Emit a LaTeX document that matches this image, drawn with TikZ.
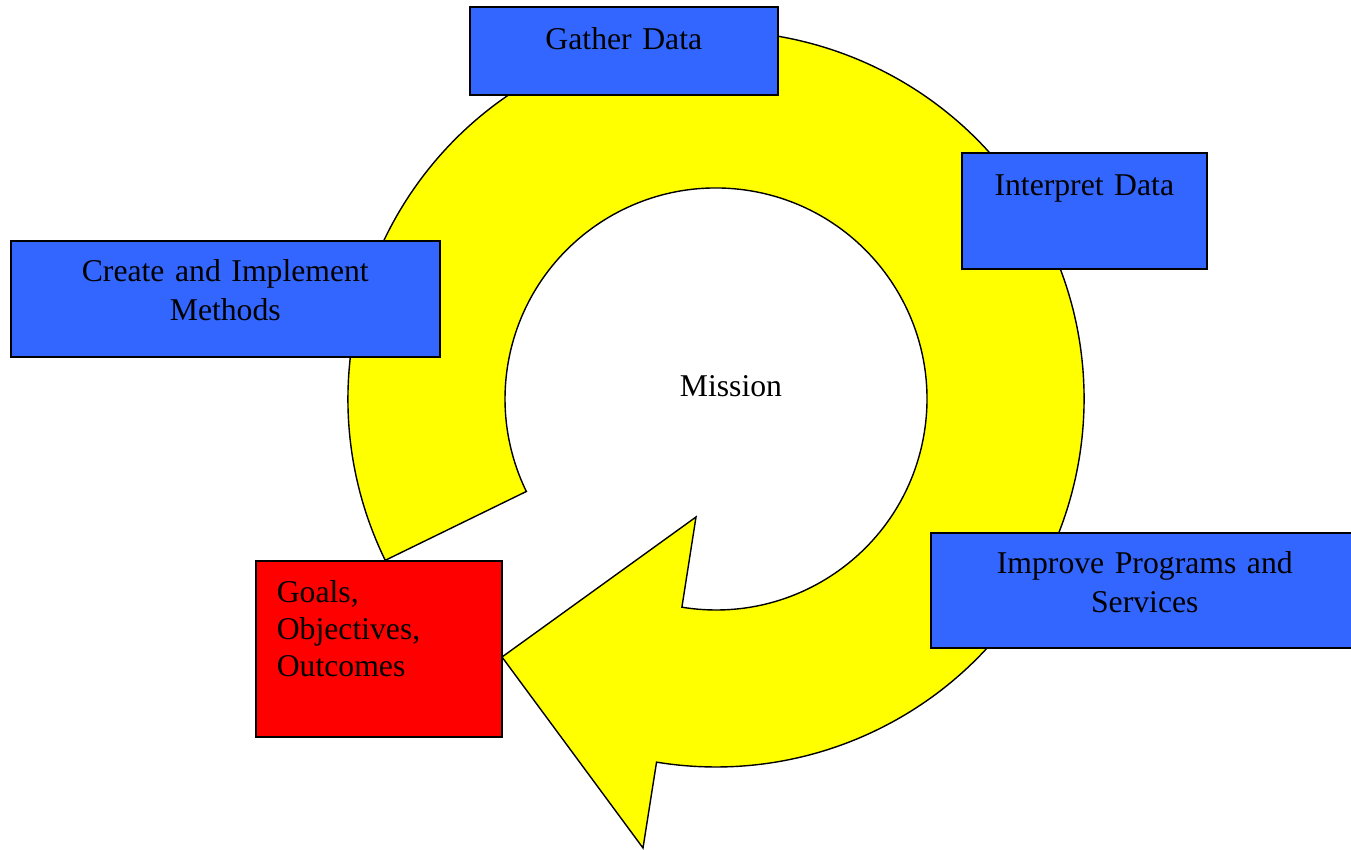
\documentclass[tikz,border=0pt]{standalone}
\usepackage{fontspec}
\setmainfont{Liberation Serif}
\definecolor{stageblue}{HTML}{3366FF}
\definecolor{goalred}{HTML}{FF0000}
\definecolor{ringyellow}{HTML}{FFFF00}
\tikzstyle{stagebox}=[draw, line width=1.6pt, fill=stageblue, inner sep=0pt, align=center, anchor=north west, font=\fontsize{31.7}{39}\selectfont]
\tikzstyle{goalbox}=[stagebox, fill=goalred, inner xsep=21pt, align=left, font=\fontsize{31.7}{37}\selectfont]
\tikzstyle{ring}=[draw, line width=1.4pt, fill=ringyellow, line join=miter]

\begin{document}
\begin{tikzpicture}[x=1pt, y=1pt]
\useasboundingbox (0, 0) rectangle (1351, 850);
\coordinate (c) at (716, 451);
\draw[ring] (c) ++(206:368) arc (206:-99.3:368) -- (643, 2) -- (502, 193) -- (696, 333) -- (681.9, 242.8) arc (-99.3:206:211) -- cycle;
\node[font=\fontsize{31.7}{39}\selectfont, anchor=base] at (731, 453) (mission) {Mission};
\node[stagebox, text width=308pt, text height=43pt, text depth=45pt] at (469, 844) (gather) {Gather Data};
\node[stagebox, text width=245pt, text height=43pt, text depth=73pt] at (961, 698) (interpret) {Interpret Data};
\node[stagebox, text width=429pt, text height=41pt, text depth=75pt] at (10, 610) (methods) {Create and Implement\\Methods};
\node[stagebox, text width=428pt, text height=41pt, text depth=74pt] at (930, 318) (improve) {Improve Programs and\\Services};
\node[goalbox, text width=204pt, text height=42pt, text depth=134pt] at (255, 290) (goals) {Goals,\\Objectives,\\Outcomes};
\end{tikzpicture}
\end{document}
